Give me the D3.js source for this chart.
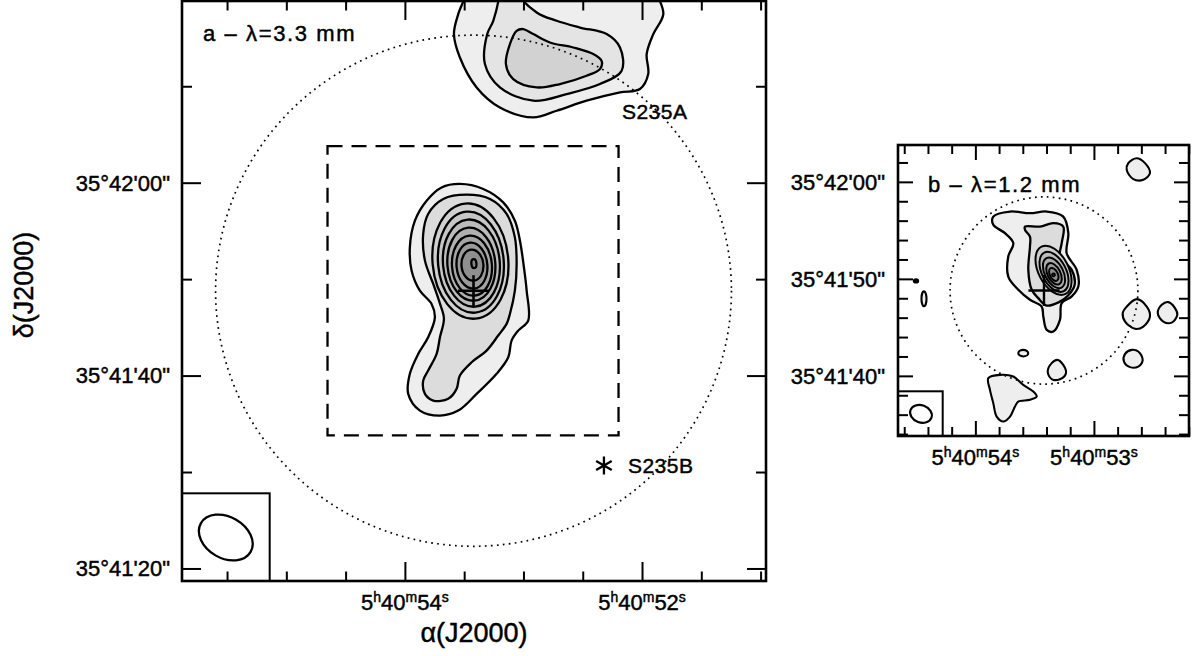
<!DOCTYPE html>
<html><head><meta charset="utf-8">
<script src="https://cdn.jsdelivr.net/npm/d3@7"></script>
<style>
body{margin:0;background:#fff}
svg{display:block}
text{font-family:"Liberation Sans",Arial,sans-serif;fill:#000;stroke:#000;stroke-width:0.45px}
</style>
</head><body>
<svg id="chart" width="1196" height="656"></svg>
<script>
// ---------------- DATA (offsets in arcsec from 5h40m54s, 35°42'00") ----------------
const RA0 = 54, DEC0_DEG = 35.7;
const panelA_ra = [22.9, -37.1];     // arcsec, east to west
const panelA_dec = [-41.3, 18.84];
const panelB_ra = [7.95, -21.95];
const panelB_dec = [-26.2, 3.8];

const raMinorA = [55.5, 55, 54.5, 53.5, 53, 52.5, 51.5, 51];
const raMajorA = [54, 52];
const decMinorA = [10, -10, -30];
const decMajorA = [0, -20, -40];
const decLabelsA = ["35°42'00\"", "35°41'40\"", "35°41'20\""];

const raMinorB = [54.6, 54.4, 54.2, 53.8, 53.6, 53.4, 53.2, 52.8, 52.6, 52.4, 52.2];
const raMajorB = [54, 53];
const decMinorB = [2, -2, -4, -6, -8, -12, -14, -16, -18, -22, -24, -26];
const decMajorB = [0, -10, -20];
const decLabelsB = ["35°42'00\"", "35°41'50\"", "35°41'40\""];

const phaseCenter = [-7.05, -11.2];
const pbRadiusA = 26.5, pbRadiusB = 9.65, crossArm = 1.6;

// S235A (3.3 mm), clipped by the top of the map
const s235aL1 = [[-6.34,24],[-6.34,19.9],[-5.48,17.48],[-5.04,15.41],[-5.65,12.98],[-7.37,9.88],[-9.76,7.80],[-13.19,6.77],[-15.59,7.46],[-18.67,8.50],[-22.1,9.36],[-24.15,9.71],[-25.0,11.26],[-24.84,13.34],[-25.52,15.41],[-26.55,17.48],[-25.87,19.9],[-25.87,24]];
const s235aL2 = [[-9.76,24],[-9.76,19.9],[-9.08,16.79],[-8.46,15.41],[-8.22,12.30],[-9.76,9.88],[-13.19,8.50],[-16.61,9.19],[-20.04,10.23],[-22.27,11.61],[-22.1,14.02],[-20.73,15.41],[-17.99,16.09],[-15.59,16.79],[-13.54,17.65],[-11.48,19.9],[-11.48,24]];
const s235aL3 = [[-11.48,15.75],[-10.79,14.37],[-10.38,12.30],[-11.13,10.75],[-13.54,9.88],[-15.93,10.23],[-18.67,11.09],[-20.04,11.78],[-20.21,12.64],[-19.35,13.34],[-17.3,14.02],[-14.9,14.54],[-13.19,15.41],[-12.16,15.93]];

// central source (3.3 mm)
const coreAL1 = [[-5.65,-0.13],[-8.05,-0.65],[-10.1,-2.04],[-11.3,-3.94],[-11.82,-6.01],[-12.23,-8.78],[-12.51,-11.19],[-12.67,-14.3],[-11.64,-15.34],[-10.96,-16.37],[-10.62,-18.1],[-9.42,-19.82],[-7.37,-21.9],[-5.48,-23.63],[-3.6,-24.15],[-1.54,-23.63],[-0.34,-21.9],[-0.51,-19.82],[-1.37,-17.75],[-2.39,-16.03],[-3.08,-13.96],[-2.74,-12.57],[-1.54,-11.19],[-0.69,-9.12],[-0.51,-6.7],[-1.03,-3.94],[-2.23,-1.87],[-3.77,-0.49]];
const coreAL2 = [[-6.34,-1.24],[-8.74,-1.69],[-10.45,-3.24],[-11.3,-5.67],[-11.48,-8.42],[-11.3,-11.19],[-10.79,-13.61],[-10.45,-14.64],[-9.59,-15.85],[-8.39,-17.41],[-6.86,-18.62],[-5.65,-20.0],[-5.31,-21.38],[-4.45,-22.41],[-2.91,-22.59],[-2.06,-21.9],[-1.88,-20.52],[-2.39,-19.48],[-3.26,-17.75],[-3.6,-16.03],[-4.01,-14.09],[-3.6,-12.54],[-2.91,-10.5],[-2.06,-8.08],[-1.88,-5.32],[-2.39,-3.24],[-3.94,-1.69]];
// closed rings: [ra, dec, major, minor, PA]
const coreARings = [
  [-6.73,-8.13,5.96,3.91,5],
  [-6.78,-8.24,5.23,3.39,5],
  [-6.83,-8.34,4.51,2.93,5],
  [-6.83,-8.45,3.78,2.47,5],
  [-6.89,-8.60,3.11,2.06,5],
  [-6.89,-8.60,2.38,1.59,5],
  [-6.94,-8.55,1.61,1.13,5],
  [-7.09,-8.39,0.47,0.26,5]
];
const beamA = [18.4, -36.79, 2.96, 2.13, 60];
const beamBoxA = 9.05;
const s235b = [-20.45, -29.33];
const s235aLabel = [-22.3, 6.63];

// 1.2 mm map
const coreBL1 = [[-1.84,-3.58],[-3.56,-3.06],[-5.61,-3.23],[-7.33,-3.06],[-9.03,-3.58],[-9.55,-5.29],[-9.38,-7.35],[-10.41,-9.07],[-10.58,-10.79],[-9.9,-11.81],[-8.87,-12.51],[-8.69,-14.23],[-8.01,-15.43],[-7.33,-15.26],[-6.98,-13.89],[-6.81,-12.86],[-5.61,-12.16],[-4.41,-11.13],[-3.38,-9.76],[-3.38,-7.7],[-3.9,-6.32],[-3.04,-5.29],[-1.84,-4.43]];
const coreBL2 = [[-5.1,-4.61],[-6.64,-4.61],[-8.01,-4.26],[-9.03,-4.61],[-8.87,-6.32],[-8.69,-7.7],[-9.9,-9.07],[-10.2,-10.6],[-9.5,-11.75],[-8.6,-12.4],[-7.33,-12.75],[-6.46,-11.99],[-5.79,-11.13],[-5.44,-9.07],[-5.61,-6.67],[-5.61,-5.64],[-5.1,-4.95]];
const coreBRings = [
  [-8.03,-9.12,2.73,1.55,27],
  [-8.08,-9.28,2.22,1.24,27],
  [-8.08,-9.38,1.70,0.95,27],
  [-8.08,-9.48,1.19,0.66,27],
  [-8.06,-9.54,0.72,0.41,27],
  [-8.03,-9.59,0.14,0.14,27]
];
const blobsB = [
  [[-15.71,1.93],[-16.58,2.44],[-17.43,1.93],[-17.94,0.9],[-17.26,0.21],[-16.23,0.28],[-15.55,1.24]],
  [[-15.55,-12.86],[-16.58,-12.09],[-17.61,-12.86],[-17.94,-13.89],[-17.26,-14.92],[-16.4,-15.15],[-15.38,-14.4],[-15.14,-13.53]],
  [[-19.15,-12.68],[-19.83,-12.4],[-20.51,-13.02],[-20.75,-13.71],[-20.17,-14.51],[-19.31,-14.4],[-18.74,-13.54]],
  [[-15.38,-17.73],[-16.06,-17.32],[-16.74,-17.49],[-17.19,-18.35],[-16.74,-19.04],[-15.89,-19.1],[-15.27,-18.53]],
  [[-7.84,-18.69],[-8.42,-18.35],[-9.03,-18.87],[-9.31,-19.72],[-8.69,-20.34],[-7.84,-20.34],[-7.43,-19.56]],
  [[-1.33,-20.24],[-2.53,-19.9],[-3.9,-20.07],[-4.92,-20.93],[-5.95,-21.62],[-6.3,-22.13],[-5.61,-22.47],[-4.41,-22.65],[-4.07,-23.16],[-3.56,-24.2],[-2.87,-24.71],[-2.19,-24.2],[-1.84,-22.82],[-1.5,-21.44]]
];
const smallEllB = [
  [5.28,-12.06,0.77,0.26,0],
  [-4.92,-17.66,0.51,0.34,90]
];
const dotB = [6.1,-10.21,0.25,0.2,90];
const beamB = [5.59, -23.92, 1.15, 0.89, 70];
const beamBoxB = 4.6;

// ---------------- DRAWING ----------------
const SEC = 15*Math.cos(DEC0_DEG*Math.PI/180);
const raOff = s => (s - RA0)*SEC;
const svg = d3.select('#chart');
const fillL = ['#eeeeee','#dcdcdc','#d0d0d0','#c6c6c6','#bbbbbb','#b0b0b0','#a5a5a5','#9a9a9a','#8f8f8f','#858585'];
const fillB = ['#eeeeee','#dcdcdc','#cccccc','#bcbcbc','#acacac','#9c9c9c','#8c8c8c','#808080'];

function makePanel(id, frame, xDom, yDom){
  const x = d3.scaleLinear().domain(xDom).range([frame.x, frame.x+frame.w]);
  const y = d3.scaleLinear().domain(yDom).range([frame.y+frame.h, frame.y]);
  svg.append('clipPath').attr('id','clip'+id).append('rect')
    .attr('x',frame.x).attr('y',frame.y).attr('width',frame.w).attr('height',frame.h);
  const g = svg.append('g');
  const body = g.append('g').attr('clip-path',`url(#clip${id})`);
  const kx = Math.abs(x(1)-x(0)), ky = Math.abs(y(1)-y(0));
  return {x,y,g,body,frame,kx,ky,k:(kx+ky)/2};
}
const lineGen = (P) => d3.line().x(d=>P.x(d[0])).y(d=>P.y(d[1])).curve(d3.curveCatmullRomClosed.alpha(0.5));
function poly(P, pts, fill, sw){
  P.body.append('path').attr('d', lineGen(P)(pts)).attr('fill', fill)
    .attr('stroke','#000').attr('stroke-width',sw).attr('stroke-linejoin','round');
}
function ell(P, e, fill, sw, parent){
  (parent||P.body).append('ellipse')
    .attr('transform',`translate(${P.x(e[0])},${P.y(e[1])}) rotate(${90-e[4]})`)
    .attr('rx', e[2]*P.k).attr('ry', e[3]*P.k)
    .attr('fill', fill).attr('stroke','#000').attr('stroke-width',sw);
}
function cross(P, c, sw){
  const p = d3.path();
  p.moveTo(P.x(c[0]+crossArm), P.y(c[1])); p.lineTo(P.x(c[0]-crossArm), P.y(c[1]));
  p.moveTo(P.x(c[0]), P.y(c[1]+crossArm)); p.lineTo(P.x(c[0]), P.y(c[1]-crossArm));
  P.body.append('path').attr('d',p.toString()).attr('stroke','#000').attr('stroke-width',sw).attr('fill','none');
}
function pbCircle(P, c, r){
  P.body.append('ellipse').attr('cx',P.x(c[0])).attr('cy',P.y(c[1]))
    .attr('rx', r*P.kx).attr('ry', r*P.ky).attr('fill','none')
    .attr('stroke','#000').attr('stroke-width',1.7).attr('stroke-dasharray','1.7,4.3');
}
function beam(P, b, box, sw){
  const f = P.frame, s = box*P.k;
  P.g.append('rect').attr('x',f.x).attr('y',f.y+f.h-s).attr('width',s).attr('height',s)
    .attr('fill','#fff').attr('stroke','#000').attr('stroke-width',2);
  ell(P, b, 'none', sw, P.g);
}
function axes(P, xMin, xMaj, yMin, yMaj, t){
  const f = P.frame, bottom=f.y+f.h, right=f.x+f.w;
  const add = (axis, tr) => {
    const a = P.g.append('g').attr('transform',tr).call(axis);
    a.select('.domain').remove();
    a.selectAll('line').attr('stroke-width',2);
    a.selectAll('text').remove();
  };
  const xs = P.x, ys = P.y;
  const xmn = xMin.map(raOff), xmj = xMaj.map(raOff);
  add(d3.axisBottom(xs).tickValues(xmn).tickSize(-t.xmin), `translate(0,${bottom})`);
  add(d3.axisBottom(xs).tickValues(xmj).tickSize(-t.xmaj), `translate(0,${bottom})`);
  add(d3.axisTop(xs).tickValues(xmn).tickSize(-t.xmin), `translate(0,${f.y})`);
  add(d3.axisTop(xs).tickValues(xmj).tickSize(-t.xmaj), `translate(0,${f.y})`);
  add(d3.axisLeft(ys).tickValues(yMin).tickSize(-t.ymin), `translate(${f.x},0)`);
  add(d3.axisLeft(ys).tickValues(yMaj).tickSize(-t.ymaj), `translate(${f.x},0)`);
  add(d3.axisRight(ys).tickValues(yMin).tickSize(-t.ymin), `translate(${right},0)`);
  add(d3.axisRight(ys).tickValues(yMaj).tickSize(-t.ymaj), `translate(${right},0)`);
}
function labels(P, xMaj, yMaj, yLab, gapY, gapX){
  const f = P.frame, bottom = f.y+f.h;
  xMaj.forEach(s => {
    const t = P.g.append('text').attr('x', P.x(raOff(s))).attr('y', bottom+gapY)
      .attr('text-anchor','middle').attr('font-size',22);
    const parts = ['5','h','40','m', String(s),'s'];
    parts.forEach((p,i)=>{
      const sup = i%2===1;
      t.append('tspan').text(p).attr('font-size', sup?14:22).attr('dy', sup ? -8 : (i>0 ? 8 : 0));
    });
  });
  yMaj.forEach((v,i) => {
    P.g.append('text').attr('x', f.x-gapX).attr('y', P.y(v)).attr('dy','0.36em')
      .attr('text-anchor','end').attr('font-size',22).text(yLab[i]);
  });
}
function frameRect(P){
  const f = P.frame;
  P.g.append('rect').attr('x',f.x).attr('y',f.y).attr('width',f.w).attr('height',f.h)
    .attr('fill','none').attr('stroke','#000').attr('stroke-width',2.6);
}

// ---- Panel a ----
const A = makePanel('A', {x:182, y:1, w:584, h:580}, panelA_ra, panelA_dec);
poly(A, s235aL1, fillL[0], 2.3);
poly(A, s235aL2, '#e4e4e4', 2.3);
poly(A, s235aL3, '#d2d2d2', 2.3);
poly(A, coreAL1, fillL[0], 2.3);
poly(A, coreAL2, fillL[1], 2.3);
coreARings.forEach((r,i) => ell(A, r, fillL[i+2], 2.3));
// dashed box = field of panel b
A.body.append('rect')
  .attr('x', A.x(panelB_ra[0])).attr('y', A.y(panelB_dec[1]))
  .attr('width', A.x(panelB_ra[1]) - A.x(panelB_ra[0]))
  .attr('height', A.y(panelB_dec[0]) - A.y(panelB_dec[1]))
  .attr('fill','none').attr('stroke','#000').attr('stroke-width',2.3).attr('stroke-dasharray','15,9');
pbCircle(A, phaseCenter, pbRadiusA);
cross(A, phaseCenter, 2.6);
// S235B asterisk
(function(){
  const cx = A.x(s235b[0]), cy = A.y(s235b[1]), r = 9;
  const p = d3.path();
  [90, 30, -30].forEach(a => {
    const dx = r*Math.cos(a*Math.PI/180), dy = r*Math.sin(a*Math.PI/180);
    p.moveTo(cx-dx, cy-dy); p.lineTo(cx+dx, cy+dy);
  });
  A.g.append('path').attr('d',p.toString()).attr('stroke','#000').attr('stroke-width',2.3);
  A.g.append('text').attr('x',cx+24).attr('y',cy+7).attr('font-size',21).attr('letter-spacing',0.5).text('S235B');
})();
A.g.append('text').attr('x',A.x(s235aLabel[0])).attr('y',A.y(s235aLabel[1])).attr('font-size',21).attr('letter-spacing',0.5).text('S235A');
A.g.append('text').attr('x',A.frame.x+21).attr('y',41).attr('font-size',22).attr('letter-spacing',1.6).text('a – λ=3.3 mm');
beam(A, beamA, beamBoxA, 2.3);
axes(A, raMinorA, raMajorA, decMinorA, decMajorA, {xmin:9.5, xmaj:19, ymin:10, ymaj:19});
labels(A, raMajorA, decMajorA, decLabelsA, 29, 12);
frameRect(A);

// ---- Panel b ----
const B = makePanel('B', {x:898, y:145, w:291, h:291}, panelB_ra, panelB_dec);
blobsB.forEach(b => poly(B, b, fillB[0], 2.1));
smallEllB.forEach(e => ell(B, e, fillB[0], 2.1));
ell(B, dotB, '#000', 1.5);
poly(B, coreBL1, fillB[0], 2.3);
poly(B, coreBL2, fillB[1], 2.3);
coreBRings.forEach((r,i) => ell(B, r, fillB[i+2], 2));
pbCircle(B, phaseCenter, pbRadiusB);
cross(B, phaseCenter, 2.4);
B.g.append('text').attr('x',B.frame.x+30).attr('y',192).attr('font-size',22).attr('letter-spacing',1.6).text('b – λ=1.2 mm');
beam(B, beamB, beamBoxB, 2.1);
axes(B, raMinorB, raMajorB, decMinorB, decMajorB, {xmin:9, xmaj:15, ymin:10, ymaj:15});
labels(B, raMajorB, decMajorB, decLabelsB, 29, 13);
frameRect(B);

// ---- axis titles ----
svg.append('text').attr('x', A.frame.x + A.frame.w/2).attr('y', 642)
  .attr('text-anchor','middle').attr('font-size',27).text('α(J2000)');
svg.append('text').attr('transform','translate(33,285) rotate(-90)')
  .attr('text-anchor','middle').attr('font-size',27).text('δ(J2000)');
</script>
</body></html>
